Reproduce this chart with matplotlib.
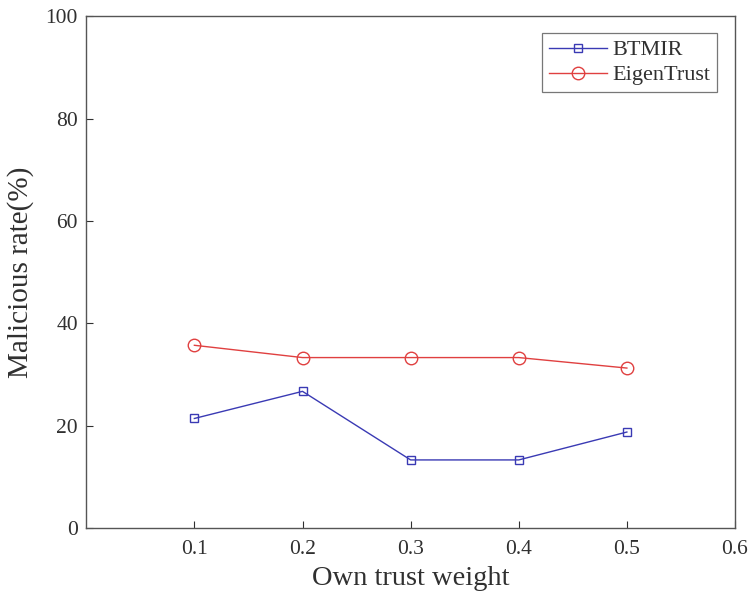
import matplotlib
matplotlib.use("Agg")
import matplotlib.pyplot as plt

weights = [0.1, 0.2, 0.3, 0.4, 0.5]
btmir = [21.4, 26.7, 13.3, 13.3, 18.75]
eigentrust = [35.7, 33.3, 33.3, 33.3, 31.25]
x_ticks = [0.1, 0.2, 0.3, 0.4, 0.5, 0.6]
y_ticks = [0, 20, 40, 60, 80, 100]

plt.rcParams['font.family'] = ['Liberation Serif', 'DejaVu Serif']
text_color = '#303030'

fig = plt.figure(figsize=(7.5, 6), dpi=100)
ax = fig.add_axes([0.115, 0.12, 0.865, 0.853])

ax.plot(weights, btmir, color='#3a3ab4', marker='s', markersize=6,
        markerfacecolor='none', linewidth=1.0, label='BTMIR')
ax.plot(weights, eigentrust, color='#e04040', marker='o', markersize=9,
        markerfacecolor='none', linewidth=1.0, label='EigenTrust')

ax.set_xlim(0, 0.6)
ax.set_ylim(0, 100)
ax.set_xticks(x_ticks)
ax.set_yticks(y_ticks)
ax.tick_params(direction='in', labelsize=15.5, colors=text_color, length=5, width=0.8)
ax.tick_params(axis='x', pad=9)
ax.tick_params(axis='y', pad=6)
for s in ax.spines.values():
    s.set_color('#555555')
    s.set_linewidth(1.0)

ax.set_xlabel('Own trust weight', fontsize=20.5, color=text_color, labelpad=5)
ax.set_ylabel('Malicious rate(%)', fontsize=21, color=text_color, labelpad=8)

leg = ax.legend(loc='upper right', bbox_to_anchor=(0.972, 0.967), fontsize=16,
                frameon=True, fancybox=False, edgecolor='#555555',
                handlelength=2.6, handletextpad=0.25, borderaxespad=0.0,
                labelspacing=0.2, borderpad=0.3)
leg.get_frame().set_linewidth(0.9)
for t in leg.get_texts():
    t.set_color(text_color)

fig.savefig('out.png', dpi=100)
